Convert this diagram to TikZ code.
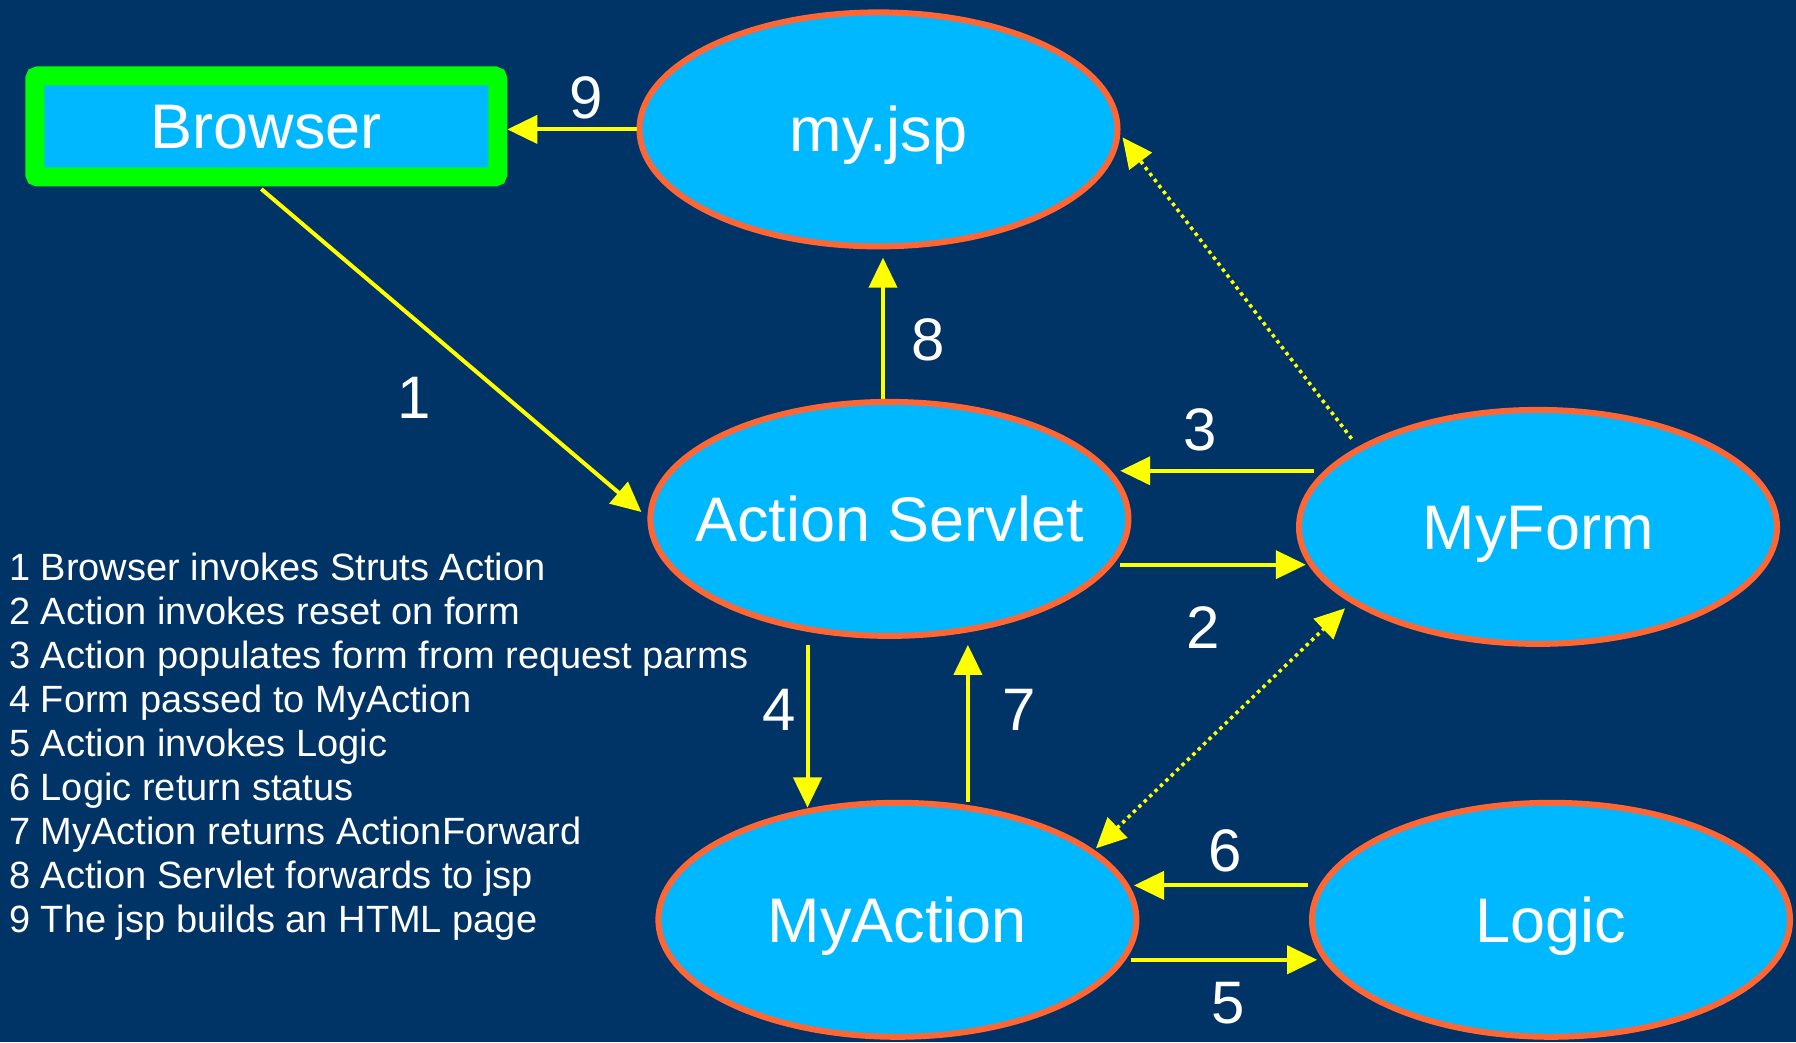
\documentclass[tikz,border=0pt]{standalone}
\usepackage{fontspec}
\setmainfont{Liberation Sans}
\usetikzlibrary{shapes.geometric,arrows.meta,calc}
\definecolor{bgblue}{RGB}{0,51,102}
\definecolor{nodecyan}{RGB}{0,184,255}
\definecolor{rimorange}{RGB}{255,102,51}
\definecolor{rimgreen}{RGB}{0,255,0}
\definecolor{arrowyellow}{RGB}{255,255,0}
\tikzset{
  x=1pt,y=1pt,
  oval/.style={ellipse, draw=rimorange, fill=nodecyan, line width=6pt,
    minimum width=478pt, minimum height=234pt, inner sep=0pt},
  ovaltext/.style={text=white, font=\fontsize{63}{70}\selectfont, inner sep=0pt, anchor=base},
  boxnode/.style={rectangle, draw=rimgreen, fill=nodecyan, line width=19pt,
    minimum width=463pt, minimum height=101pt, inner sep=0pt, rounded corners=3pt},
  flow/.style={draw=arrowyellow, line width=4pt,
    -{Triangle[length=30pt,width=28pt]}},
  dotflow/.style={draw=arrowyellow, line width=3.5pt, dash pattern=on 3.5pt off 4pt,
    -{Triangle[length=30pt,width=28pt]}},
  dotboth/.style={draw=arrowyellow, line width=3.5pt, dash pattern=on 3.5pt off 4pt,
    {Triangle[length=30pt,width=28pt]}-{Triangle[length=30pt,width=28pt]}},
  steplabel/.style={text=white, font=\fontsize{60}{66}\selectfont, inner sep=0pt},
  legendline/.style={text=white, font=\fontsize{38}{44}\selectfont, inner sep=0pt, anchor=base west}
}
\begin{document}
\begin{tikzpicture}
\fill[bgblue] (0,0) rectangle (1796,1042);
\useasboundingbox (0,0) rectangle (1796,1042);

\node[boxnode] (browser) at (266.3,915.5) {};
\node[oval] (myjsp) at (878.5,912.6) {};
\node[oval] (AS) at (889.4,523.1) {};
\node[oval] (MyForm) at (1538,515.1) {};
\node[oval] (MyAction) at (897.4,122.2) {};
\node[oval] (Logic) at (1551,122.2) {};

\node[ovaltext] (browsertext) at ($(browser.center)+(0,-22)$) {Browser};
\node[ovaltext] (myjsptext) at ($(myjsp.center)+(0,-22.5)$) {my.jsp};
\node[ovaltext] (AStext) at ($(AS.center)+(0,-22.5)$) {Action Servlet};
\node[ovaltext] (MyFormtext) at ($(MyForm.center)+(0,-22.5)$) {MyForm};
\node[ovaltext] (MyActiontext) at ($(MyAction.center)+(0,-22.5)$) {MyAction};
\node[ovaltext] (Logictext) at ($(Logic.center)+(0,-22.5)$) {Logic};

% 9
\draw[flow] (myjsp.west) -- (browser.east |- myjsp.west);
% 1
\draw[flow] ($(browser.center)+(-5,-62.5)$) -- ($(AS.center)+(-248,6.9)$);
% 8
\draw[flow] ($(AS.center)+(-6.4,120.3)$) -- ($(myjsp.center)+(4.5,-128.3)$);
% 3
\draw[flow] ($(MyForm.center)+(-224.2,56.1)$) -- ($(AS.center)+(230.8,48.1)$);
% 2
\draw[flow] ($(AS.center)+(230.8,-45.8)$) -- ($(MyForm.center)+(-232.2,-37.8)$);
% 4
\draw[flow] ($(AS.center)+(-81.9,-126)$) -- ($(MyAction.center)+(-89.9,112.3)$);
% 7
\draw[flow] ($(MyAction.center)+(70.5,118)$) -- ($(AS.center)+(78.5,-126)$);
% 6
\draw[flow] ($(Logic.center)+(-243,34.4)$) -- ($(MyAction.center)+(236.6,34.4)$);
% 5
\draw[flow] ($(MyAction.center)+(233.1,-40)$) -- ($(Logic.center)+(-233.8,-40)$);
% dotted
\draw[dotflow] ($(MyForm.center)+(-186.4,88.2)$) -- ($(myjsp.center)+(244,-8)$);
\draw[dotboth] ($(MyAction.center)+(198.6,71.5)$) -- ($(MyForm.center)+(-193,-81.4)$);

% step labels
\node[steplabel] (l9) at (586.5,944) {9};
\node[steplabel] (l1) at (414.6,644.6) {1};
\node[steplabel] (l8) at (927.8,701.8) {8};
\node[steplabel] (l3) at (1200.4,612.5) {3};
\node[steplabel] (l2) at (1202.7,414.3) {2};
\node[steplabel] (l4) at (778.9,331.9) {4};
\node[steplabel] (l7) at (1019.4,331.9) {7};
\node[steplabel] (l6) at (1225.6,191) {6};
\node[steplabel] (l5) at (1227.9,38.6) {5};

% legend
\node[legendline] (t1) at (9,461.7) {1 Browser invokes Struts Action};
\node[legendline] (t2) at (9,417.7) {2 Action invokes reset on form};
\node[legendline] (t3) at (9,373.7) {3 Action populates form from request parms};
\node[legendline] (t4) at (9,329.7) {4 Form passed to MyAction};
\node[legendline] (t5) at (9,285.7) {5 Action invokes Logic};
\node[legendline] (t6) at (9,241.7) {6 Logic return status};
\node[legendline] (t7) at (9,197.7) {7 MyAction returns ActionForward};
\node[legendline] (t8) at (9,153.7) {8 Action Servlet forwards to jsp};
\node[legendline] (t9) at (9,109.7) {9 The jsp builds an HTML page};
\end{tikzpicture}
\end{document}
